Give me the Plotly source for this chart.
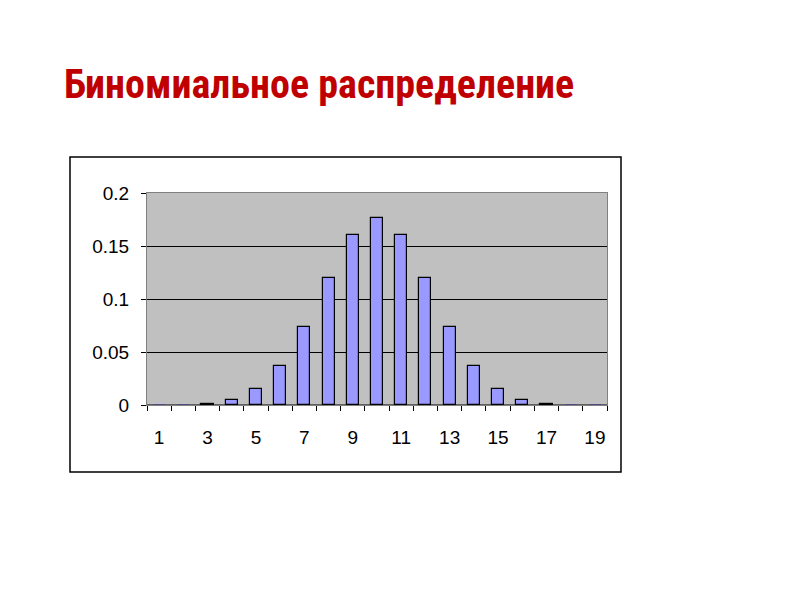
import plotly.graph_objects as go

categories = list(range(1, 20))
probabilities = [0.00002, 0.0002, 0.0011, 0.0046, 0.0148, 0.037, 0.0739, 0.1201, 0.1602,
                 0.1762, 0.1602, 0.1201, 0.0739, 0.037, 0.0148, 0.0046, 0.0011, 0.0002, 0.00002]
x_tick_labels = ["1", "3", "5", "7", "9", "11", "13", "15", "17", "19"]
y_tick_vals = [0, 0.05, 0.1, 0.15, 0.2]
y_tick_text = ["0", "0.05", "0.1", "0.15", "0.2"]
title_text = "Биномиальное распределение"

OFF = 8  # page body margin
L, R, T, B = 147 - OFF, 607 - OFF, 193 - OFF, 405 - OFF
W, H = R - L, B - T

def px(x):
    return (x - OFF - L) / W

def py(y):
    return (B - (y - OFF)) / H

fig = go.Figure()
fig.add_trace(go.Bar(
    x=categories, y=probabilities, width=0.5,
    marker=dict(color="#9999FF",
                line=dict(color="black", width=[0 if v < 0.0005 else 1.2 for v in probabilities])),
))

fig.update_layout(
    width=800, height=600,
    margin=dict(l=L, r=800 - R, t=T, b=600 - B),
    paper_bgcolor="white", plot_bgcolor="#C0C0C0",
    showlegend=False,
    bargap=0,
    font=dict(family="Liberation Sans, Arial, sans-serif", size=19, color="black"),
    xaxis=dict(
        range=[0.5, 19.5], tickmode="array",
        tickvals=[int(t) for t in x_tick_labels], ticktext=x_tick_labels,
        ticks="outside", ticklen=15, tickcolor="rgba(0,0,0,0)",
        showgrid=False, zeroline=False, showline=True, linecolor="#808080", linewidth=1,
        mirror=True,
        minor=dict(tickmode="array", tickvals=[c - 0.5 for c in categories] + [19.5],
                   ticks="outside", ticklen=5, tickcolor="black", showgrid=False),
        tickfont=dict(size=19),
    ),
    yaxis=dict(
        range=[0, 0.2], tickmode="array", tickvals=y_tick_vals, ticktext=y_tick_text,
        ticks="outside", ticklen=5, tickcolor="black",
        showgrid=True, gridcolor="black", gridwidth=1,
        zeroline=False, showline=True, linecolor="#808080", linewidth=1, mirror=True,
        ticklabelstandoff=8,
        tickfont=dict(size=19),
    ),
    shapes=[
        dict(type="rect", xref="paper", yref="paper",
             x0=px(70), x1=px(621), y0=py(472), y1=py(157),
             line=dict(color="black", width=1.5), fillcolor="rgba(0,0,0,0)", layer="below"),
        dict(type="line", xref="paper", yref="y", x0=0, x1=1, y0=0, y1=0,
             line=dict(color="black", width=1)),
    ],
    annotations=[
        dict(text="<b>" + title_text + "</b>", xref="paper", yref="paper",
             x=px(62), y=py(85), xanchor="left", yanchor="middle", showarrow=False,
             font=dict(family="Liberation Sans Narrow, Arial Narrow, Roboto Condensed, Liberation Sans, sans-serif",
                       size=40, color="#C00000")),
    ],
)

fig.write_html("out.html")
